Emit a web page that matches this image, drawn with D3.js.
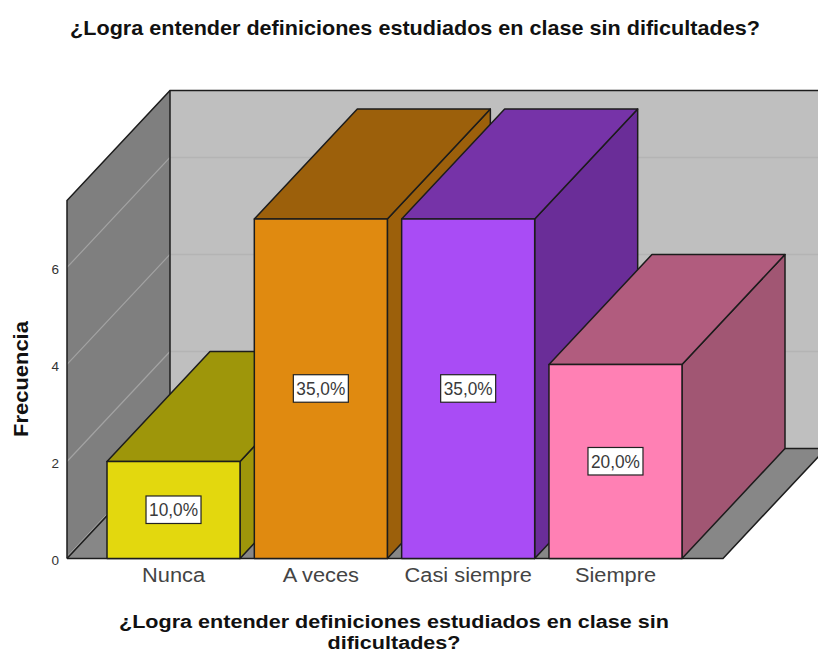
<!DOCTYPE html>
<html><head><meta charset="utf-8">
<script src="https://cdnjs.cloudflare.com/ajax/libs/d3/7.8.5/d3.min.js"></script>
<style>html,body{margin:0;padding:0;background:#fff}svg{display:block}text{font-family:"Liberation Sans",Arial,sans-serif}</style>
</head><body><svg id="c" width="818" height="653"></svg>
<script>
const categories=["Nunca","A veces","Casi siempre","Siempre"];
const frequencies=[2,7,7,4];
const percentLabels=["10,0%","35,0%","35,0%","20,0%"];
const frontColors=["#e3d80e","#e08a10","#a94cf5","#ff80b4"];
const topColors=["#9e960a","#9c600b","#7633a8","#b15c7e"];
const sideColors=["#9e960a","#9c600b","#6a2d98","#a15673"];
const yTicks=[0,2,4,6];
const titleText="¿Logra entender definiciones estudiados en clase sin dificultades?";
const xTitleLines=["¿Logra entender definiciones estudiados en clase sin","dificultades?"];
const yTitle="Frecuencia";

const W=818,H=653,dx=103,dy=-110;
const floorL=67,floorR=723,yMax=7.38;
const y=d3.scaleLinear().domain([0,yMax]).range([558.5,200.5]);
const x=d3.scaleBand().domain(categories).range([107,682]).paddingInner(0.097).paddingOuter(0);
const svg=d3.select("#c");
const stroke="#1c1c1c";
const pts=a=>a.map(p=>p.join(",")).join(" ");
const clipId="plotClip";
svg.append("defs").append("clipPath").attr("id",clipId).append("rect").attr("width",W).attr("height",H);
const g=svg.append("g").attr("clip-path",`url(#${clipId})`);

// walls
g.append("polygon").attr("points",pts([[floorL+dx,y(yMax)+dy],[floorR+dx+10,y(yMax)+dy],[floorR+dx+10,y(0)+dy],[floorL+dx,y(0)+dy]])).attr("fill","#bfbfbf");
g.append("polygon").attr("points",pts([[floorL,y(yMax)],[floorL+dx,y(yMax)+dy],[floorL+dx,y(0)+dy],[floorL,y(0)]])).attr("fill","#7f7f7f");
g.append("polygon").attr("points",pts([[floorL,y(0)],[floorR,y(0)],[floorR+dx,y(0)+dy],[floorL+dx,y(0)+dy]])).attr("fill","#878787");

// gridlines
yTicks.filter(t=>t>0).forEach(t=>{
  g.append("line").attr("x1",floorL).attr("y1",y(t)).attr("x2",floorL+dx).attr("y2",y(t)+dy).attr("stroke","#a3a3a3").attr("stroke-width",1.2);
  g.append("line").attr("x1",floorL+dx).attr("y1",y(t)+dy).attr("x2",W).attr("y2",y(t)+dy).attr("stroke","#b4b4b4").attr("stroke-width",1.6);
});
g.append("line").attr("x1",floorL+1).attr("y1",y(0)-3).attr("x2",floorL+dx).attr("y2",y(0)+dy-2).attr("stroke","#a3a3a3").attr("stroke-width",1);

// wall and floor outlines
const ol=(a)=>g.append("polyline").attr("points",pts(a)).attr("fill","none").attr("stroke",stroke).attr("stroke-width",1.5);
ol([[floorL,y(0)],[floorL,y(yMax)],[floorL+dx,y(yMax)+dy],[W+10,y(yMax)+dy]]);
ol([[floorL+dx,y(yMax)+dy],[floorL+dx,y(0)+dy]]);
ol([[floorL,y(0)],[floorL+dx,y(0)+dy],[W+10,y(0)+dy]]);
ol([[floorL,y(0)],[floorR,y(0)],[floorR+dx,y(0)+dy]]);

// bars
const bars=g.selectAll("g.bar").data(categories).join("g").attr("class","bar");
bars.each(function(c,i){
  const s=d3.select(this),l=x(c),r=l+x.bandwidth(),t=y(frequencies[i]),b=y(0);
  const shape=(a,f)=>s.append("polygon").attr("points",pts(a)).attr("fill",f).attr("stroke",stroke).attr("stroke-width",1.5).attr("stroke-linejoin","round");
  shape([[r,t],[r+dx,t+dy],[r+dx,b+dy],[r,b]],sideColors[i]);
  shape([[l,t],[l+dx,t+dy],[r+dx,t+dy],[r,t]],topColors[i]);
  shape([[l,t],[r,t],[r,b],[l,b]],frontColors[i]);
});
const widen=(sel,f)=>sel.each(function(){
  const n=this.getComputedTextLength();
  d3.select(this).attr("textLength",n*f).attr("lengthAdjust","spacingAndGlyphs");
});
// value labels
bars.each(function(c,i){
  const s=d3.select(this),cx=x(c)+x.bandwidth()/2,cy=y(frequencies[i]/2);
  s.append("rect").attr("x",cx-27.5).attr("y",cy-14).attr("width",55).attr("height",27.5).attr("fill","#fff").attr("stroke","#222").attr("stroke-width",1.2);
  s.append("text").attr("x",cx).attr("y",cy+6.5).attr("text-anchor","middle").attr("font-size",19).attr("fill","#3a3a3a").attr("textLength",49).attr("lengthAdjust","spacingAndGlyphs").text(percentLabels[i]);
});

// axes
const yAxis=svg.append("g").attr("transform",`translate(${floorL-5},2)`).call(d3.axisLeft(y).tickValues(yTicks).tickFormat(d3.format("d")).tickSize(0).tickPadding(3));
yAxis.select(".domain").remove();
yAxis.selectAll("text").attr("font-size",13.5).attr("fill","#333").style("font-family",'"Liberation Sans",Arial,sans-serif');
const xAxis=svg.append("g").attr("transform","translate(0,565)").call(d3.axisBottom(x).tickSize(0).tickPadding(3));
xAxis.select(".domain").remove();
xAxis.selectAll("text").attr("font-size",20).attr("fill","#444").style("font-family",'"Liberation Sans",Arial,sans-serif');
widen(xAxis.selectAll("text"),1.09);

// titles
const tt=svg.append("text").attr("x",415).attr("y",35).attr("text-anchor","middle").attr("font-size",20.5).attr("font-weight","bold").attr("fill","#111").text(titleText);
widen(tt,1.053);
const yt=svg.append("text").attr("transform","translate(28,379) rotate(-90)").attr("text-anchor","middle").attr("font-size",20.5).attr("font-weight","bold").attr("fill","#111").text(yTitle);
widen(yt,1.07);
const xt=svg.selectAll("text.xt").data(xTitleLines).join("text").attr("class","xt").attr("x",394).attr("y",(d,i)=>628+i*20.8).attr("text-anchor","middle").attr("font-size",18.8).attr("font-weight","bold").attr("fill","#111").text(d=>d);
widen(xt,1.148);
</script></body></html>
